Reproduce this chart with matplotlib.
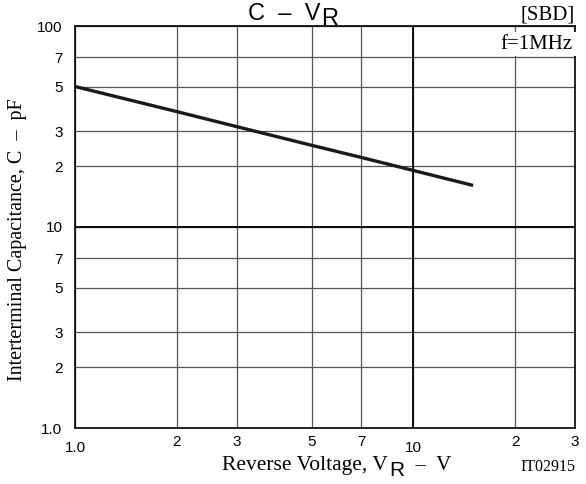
import matplotlib
matplotlib.use("Agg")
import matplotlib.pyplot as plt
from matplotlib.ticker import FixedLocator, NullLocator

# curve
vr = [1.0, 2.0, 3.0, 5.0, 7.0, 10.0, 15.0]
cap = [50.0, 37.5, 31.6, 25.5, 22.2, 19.1, 16.1]

xticks = [1, 2, 3, 5, 7, 10, 20, 30]
xlabels = ["1.0", "2", "3", "5", "7", "10", "2", "3"]
yticks = [1, 2, 3, 5, 7, 10, 20, 30, 50, 70, 100]
ylabels = ["1.0", "2", "3", "5", "7", "10", "2", "3", "5", "7", "100"]

W, H = 586, 484
fig = plt.figure(figsize=(5.86, 4.84), dpi=100)
ax = fig.add_axes([75/W, 1 - 428/H, 500/W, 402/H])

ax.set_xscale("log")
ax.set_yscale("log")
ax.set_xlim(1, 30)
ax.set_ylim(1, 100)

ax.xaxis.set_major_locator(FixedLocator(xticks))
ax.yaxis.set_major_locator(FixedLocator(yticks))
ax.xaxis.set_minor_locator(NullLocator())
ax.yaxis.set_minor_locator(NullLocator())
ax.set_xticklabels(xlabels, family="Liberation Sans", fontsize=11)
ax.set_yticklabels(ylabels, family="Liberation Sans", fontsize=11)
ax.tick_params(axis="y", length=0, pad=9)
ax.tick_params(axis="x", length=0, pad=5)
for lab, v in zip(ax.get_xticklabels(), xticks):
    if v in (1, 10):
        lab.set_y(-0.015)

ax.grid(True, color="#555555", linewidth=0.9)
ax.axvline(10, color="black", linewidth=1.3)
ax.axhline(10, color="black", linewidth=1.3)
for s in ax.spines.values():
    s.set_linewidth(1.2)

ax.plot(vr, cap, color="#1a1a1a", linewidth=2.4, solid_capstyle="butt", zorder=3)

ax.text(0.996, 0.955, "f=1MHz", transform=ax.transAxes, ha="right", va="center",
        family="Liberation Serif", fontsize=15,
        bbox=dict(facecolor="white", edgecolor="none", pad=2.0), zorder=4)

# y label
fig.text(18/W, 1 - 240/H, "Interterminal Capacitance, C  \u2013  pF", rotation=90,
         ha="center", va="center", family="Liberation Serif", fontsize=14.5)

# x label, with the subscript R in sans
fig.text(388/W, 1 - 470/H, "Reverse Voltage, V", ha="right", va="baseline",
         family="Liberation Serif", fontsize=15.5)
fig.text(389/W, 1 - 476/H, "R", ha="left", va="baseline",
         family="Liberation Sans", fontsize=15)
fig.text(405/W, 1 - 470/H, "  \u2013  V", ha="left", va="baseline",
         family="Liberation Serif", fontsize=15)

# title
fig.text(321/W, 1 - 20/H, "C  \u2013  V", ha="right", va="baseline",
         family="Liberation Sans", fontsize=17)
fig.text(321/W, 1 - 25/H, "R", ha="left", va="baseline",
         family="Liberation Sans", fontsize=17)

fig.text(575/W, 1 - 15/H, "[SBD]", ha="right", va="center",
         family="Liberation Serif", fontsize=15)
fig.text(575/W, 1 - 467/H, "IT02915", ha="right", va="center",
         family="Liberation Serif", fontsize=11.5)

fig.savefig("out.png", dpi=100)
